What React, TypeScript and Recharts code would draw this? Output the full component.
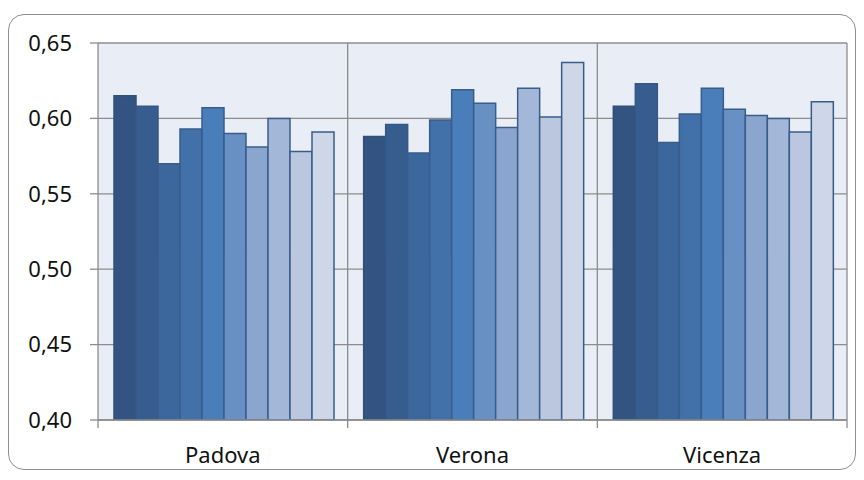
import React from 'react';
import { BarChart, Bar, XAxis, YAxis, CartesianGrid } from 'recharts';

const categories = ['Padova', 'Verona', 'Vicenza'];
const seriesKeys = ['s1', 's2', 's3', 's4', 's5', 's6', 's7', 's8', 's9', 's10'];

// one value per series
const padova = [0.615, 0.608, 0.570, 0.593, 0.607, 0.590, 0.581, 0.600, 0.578, 0.591];
const verona = [0.588, 0.596, 0.577, 0.599, 0.619, 0.610, 0.594, 0.620, 0.601, 0.637];
const vicenza = [0.608, 0.623, 0.584, 0.603, 0.620, 0.606, 0.602, 0.600, 0.591, 0.611];

const yTicks = [0.4, 0.45, 0.5, 0.55, 0.6, 0.65];

const fills = ['#335480', '#375D8E', '#3C679C', '#4271AA', '#4A7EBB', '#6890C4', '#8BA6CE', '#A3B7D8', '#BAC7DF', '#CDD7E8'];
const strokes = ['#30507A', '#345887', '#385D8A', '#385D8A', '#385D8A', '#385D8A', '#385D8A', '#385D8A', '#385D8A', '#385D8A'];

const rows = [padova, verona, vicenza];
const data = categories.map((name, i) => {
  const row: Record<string, any> = { name };
  seriesKeys.forEach((k, j) => { row[k] = rows[i][j]; });
  return row;
});

const FONT = '"Noto Sans", sans-serif';
const GRID = '#8C8C8C';

const fmt = (v: number) => v.toFixed(2).replace('.', ',');

// category label plus tick marks on the band edges
const CategoryTick = (props: any) => {
  const { x, y, payload, index } = props;
  const half = payload.offset || 0;
  const axisY = y - 27;
  return (
    <g>
      {index === 0 && <line x1={x - half} x2={x - half} y1={axisY} y2={axisY + 8} stroke={GRID} strokeWidth={1.3} />}
      <line x1={x + half} x2={x + half} y1={axisY} y2={axisY + 8} stroke={GRID} strokeWidth={1.3} />
      <text x={x} y={y} dy="0.71em" textAnchor="middle" fill="#111" fontSize={22} fontFamily={FONT}>
        {payload.value}
      </text>
    </g>
  );
};

export default function App() {
  return (
    <div style={{ position: 'absolute', left: 0, top: 0, width: 864, height: 480, background: '#fff' }}>
      <div
        style={{
          position: 'absolute',
          left: 8,
          top: 14,
          width: 846,
          height: 454,
          border: '1.5px solid #8E8E8E',
          borderRadius: 16,
        }}
      />
      <div style={{ position: 'absolute', left: 0, top: 0 }}>
        <BarChart
          width={864}
          height={480}
          data={data}
          margin={{ top: 43, right: 17, left: 0, bottom: 0 }}
          barCategoryGap={16}
          barGap={0}
        >
          <CartesianGrid
            fill="#E9EDF5"
            stroke={GRID}
            strokeWidth={1.3}
            verticalCoordinatesGenerator={({ offset }: any) =>
              categories.map((_, i) => offset.left + ((i + 1) * offset.width) / categories.length)
            }
          />
          <XAxis
            dataKey="name"
            height={60}
            axisLine={{ stroke: GRID, strokeWidth: 1.3 }}
            tickLine={false}
            tickSize={8}
            tickMargin={19}
            tick={<CategoryTick />}
            interval={0}
          />
          <YAxis
            width={98}
            domain={[0.4, 0.65]}
            ticks={yTicks}
            allowDataOverflow
            tickFormatter={fmt}
            axisLine={{ stroke: GRID, strokeWidth: 1.3 }}
            tickLine={{ stroke: GRID, strokeWidth: 1.3 }}
            tickSize={8}
            tickMargin={18}
            tick={{ fill: '#111', fontSize: 22, fontFamily: FONT }}
          />
          {seriesKeys.map((k, i) => (
            <Bar
              key={k}
              dataKey={k}
              fill={fills[i]}
              stroke={strokes[i]}
              strokeWidth={1.5}
              isAnimationActive={false}
            />
          ))}
        </BarChart>
      </div>
    </div>
  );
}
